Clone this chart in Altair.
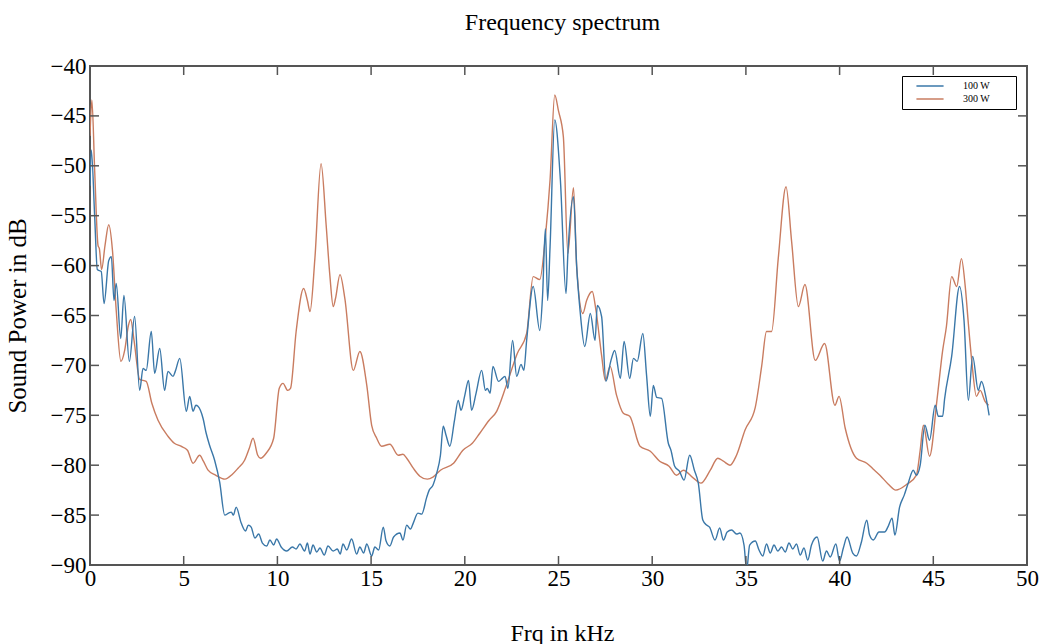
import altair as alt
import pandas as pd

# ---- data ----
freq_300 = [0.0, 0.1, 0.25, 0.43, 0.5, 0.62, 0.8, 1.0, 1.2, 1.4, 1.65, 1.85, 2.05, 2.17, 2.35, 2.65, 3.0, 3.3,
            3.63, 4.16, 4.5, 4.85, 5.2, 5.5, 5.85, 6.05, 6.3, 6.7, 7.2, 7.6, 7.9, 8.25, 8.5, 8.7, 8.95, 9.1, 9.4,
            9.8, 10.1, 10.3, 10.55, 10.7, 11.0, 11.4, 11.6, 11.74, 12.0, 12.33, 12.6, 12.8, 12.98, 13.1, 13.34,
            13.6, 14.05, 14.4, 14.77, 15.03, 15.3, 15.56, 16.0, 16.45, 16.7, 16.9, 17.25, 17.6, 18.0, 18.3, 18.7,
            19.4, 19.9, 20.4, 20.8, 21.3, 21.7, 22.2, 22.8, 23.3, 23.65, 24.0, 24.3, 24.55, 24.8, 25.0, 25.26,
            25.5, 25.8, 25.97, 26.3, 26.5, 26.8, 27.0, 27.3, 27.5, 27.75, 28.1, 28.46, 28.8, 29.35, 29.9, 30.4,
            30.9, 31.3, 31.66, 32.2, 32.6, 33.1, 33.5, 33.8, 34.15, 34.5, 34.95, 35.5, 35.84, 36.1, 36.37, 36.73,
            37.14, 37.44, 37.8, 38.15, 38.7, 39.2, 39.75, 39.97, 40.3, 40.9, 41.45, 41.8, 42.15, 42.6, 43.0, 43.6,
            44.1, 44.3, 44.47, 44.8, 45.2, 45.5, 45.7, 45.98, 46.25, 46.5, 46.7, 46.87, 47.05, 47.3, 47.5, 47.76,
            47.95]
power_300 = [-47.0, -43.4, -50.5, -58.0, -58.3, -60.4, -58.0, -55.9, -58.5, -64.5, -69.6, -68.5, -66.0, -65.4,
             -67.5, -71.4, -71.6, -73.8, -75.5, -77.1, -77.8, -78.1, -78.5, -79.8, -79.0, -79.6, -80.5, -81.0,
             -81.4, -80.9, -80.3, -79.5, -78.3, -77.3, -79.0, -79.3, -78.8, -77.3, -72.3, -71.8, -72.5, -72.3,
             -66.6, -62.3, -63.5, -64.6, -59.3, -49.8, -55.9, -61.0, -64.1, -63.3, -60.9, -63.3, -70.5, -68.6,
             -72.0, -76.0, -77.3, -78.1, -77.9, -79.0, -78.9, -79.3, -80.3, -81.1, -81.4, -81.2, -80.5, -79.8,
             -78.5, -77.8, -76.8, -75.5, -74.6, -72.1, -68.8, -66.8, -61.1, -61.4, -57.1, -51.4, -42.9, -44.5,
             -47.1, -58.8, -52.2, -60.1, -64.8, -63.5, -62.6, -64.5, -69.0, -71.5, -70.1, -73.0, -74.8, -75.1,
             -78.1, -78.6, -79.6, -80.1, -81.0, -80.5, -81.3, -81.8, -80.5, -79.3, -79.6, -80.0, -79.0, -76.5,
             -74.2, -70.1, -66.6, -66.6, -59.2, -52.1, -57.6, -64.1, -61.9, -69.5, -67.8, -74.0, -73.1, -76.3,
             -79.3, -79.8, -80.4, -81.0, -81.9, -82.5, -81.9, -81.0, -78.5, -76.0, -79.1, -73.4, -68.5, -66.1,
             -61.1, -62.1, -59.3, -62.0, -65.8, -69.5, -73.1, -72.5, -73.6, -74.0]

freq_100 = [0.0, 0.07, 0.25, 0.39, 0.6, 0.75, 1.0, 1.14, 1.28, 1.4, 1.64, 1.81, 2.1, 2.38, 2.65, 2.83, 3.0, 3.27,
            3.45, 3.72, 3.98, 4.16, 4.43, 4.55, 4.79, 5.14, 5.32, 5.5, 5.65, 5.76, 6.03, 6.2, 6.38, 6.65, 6.92,
            7.19, 7.4, 7.54, 7.65, 7.8, 8.07, 8.3, 8.45, 8.6, 8.8, 9.0, 9.2, 9.43, 9.6, 9.8, 9.96, 10.2, 10.5,
            10.8, 11.0, 11.2, 11.45, 11.6, 11.74, 11.9, 12.1, 12.27, 12.5, 12.7, 12.98, 13.2, 13.35, 13.5, 13.7,
            13.96, 14.23, 14.4, 14.6, 14.77, 15.03, 15.2, 15.4, 15.65, 15.8, 16.0, 16.2, 16.54, 16.7, 16.9, 17.1,
            17.25, 17.5, 17.7, 17.97, 18.1, 18.3, 18.5, 18.7, 18.85, 19.0, 19.2, 19.45, 19.65, 19.8, 20.0, 20.2,
            20.36, 20.6, 20.9, 21.1, 21.2, 21.35, 21.5, 21.8, 22.0, 22.15, 22.3, 22.55, 22.77, 23.0, 23.15, 23.3,
            23.65, 24.0, 24.15, 24.3, 24.42, 24.55, 24.8, 25.1, 25.4, 25.5, 25.8, 25.97, 26.15, 26.4, 26.7,
            26.95, 27.07, 27.3, 27.53, 27.8, 28.0, 28.3, 28.5, 28.8, 29.0, 29.2, 29.5, 29.7, 29.9, 30.06, 30.24,
            30.5, 30.86, 31.0, 31.2, 31.45, 31.7, 32.0, 32.25, 32.46, 32.7, 32.9, 33.06, 33.35, 33.6, 33.8, 34.0,
            34.24, 34.5, 34.68, 34.9, 35.04, 35.2, 35.5, 35.7, 35.9, 36.1, 36.3, 36.5, 36.7, 36.9, 37.1, 37.3,
            37.5, 37.7, 37.9, 38.1, 38.3, 38.5, 38.8, 39.1, 39.3, 39.5, 39.8, 40.0, 40.2, 40.4, 40.7, 40.9, 41.15,
            41.45, 41.6, 41.8, 42.1, 42.4, 42.6, 42.8, 42.95, 43.2, 43.45, 43.66, 43.93, 44.1, 44.3, 44.55, 44.8,
            45.1, 45.27, 45.5, 45.6, 45.98, 46.4, 46.64, 46.87, 47.1, 47.4, 47.57, 47.8, 47.98]
power_100 = [-52.0, -48.4, -55.1, -60.4, -60.6, -63.8, -59.5, -59.1, -63.5, -61.8, -67.3, -63.0, -69.6, -65.1,
             -72.5, -70.3, -70.5, -66.6, -70.8, -68.3, -72.5, -70.6, -71.1, -70.6, -69.3, -74.6, -73.1, -74.6,
             -74.0, -74.1, -75.3, -76.8, -78.0, -79.5, -81.7, -85.0, -84.8, -84.7, -85.0, -84.2, -85.8, -86.6,
             -86.0, -86.2, -87.3, -86.9, -87.8, -88.1, -87.5, -88.0, -87.4, -88.2, -88.6, -88.2, -88.4, -87.9,
             -88.6, -87.8, -88.9, -88.0, -88.7, -88.3, -89.0, -88.1, -88.6, -88.4, -88.9, -87.9, -88.5, -87.4,
             -88.9, -88.2, -88.8, -87.9, -89.1, -88.2, -88.5, -86.2, -87.6, -88.1, -87.2, -86.8, -87.5, -86.0,
             -86.4, -85.8, -84.8, -84.9, -83.2, -82.5, -82.0, -80.8, -79.0, -76.1, -77.0, -78.1, -75.5, -73.5,
             -74.5, -73.0, -71.5, -74.5, -72.8, -70.5, -72.5, -72.3, -72.8, -70.1, -71.6, -71.3, -71.1, -72.3,
             -67.5, -71.1, -69.9, -70.5, -67.5, -62.1, -66.5, -63.0, -56.3, -63.5, -58.1, -45.4, -51.4, -62.8,
             -58.8, -53.1, -60.1, -64.5, -68.1, -64.8, -67.5, -64.0, -65.1, -71.6, -69.5, -68.5, -71.3, -67.6,
             -71.3, -69.3, -69.6, -66.8, -71.0, -75.1, -72.0, -73.2, -73.3, -77.8, -78.5, -80.1, -80.6, -81.5,
             -79.0, -80.5, -81.8, -85.5, -86.0, -86.2, -87.5, -86.3, -87.5, -86.7, -86.5, -86.9, -86.8, -88.0,
             -90.5, -88.0, -87.6, -88.5, -89.1, -87.9, -88.8, -88.0, -88.6, -88.2, -88.7, -87.8, -88.4, -87.9,
             -89.0, -88.3, -89.5, -88.0, -87.2, -89.6, -88.6, -89.2, -87.9, -89.6, -88.3, -87.2, -88.8, -89.1,
             -87.8, -85.5, -87.0, -87.5, -86.7, -86.7, -86.1, -85.3, -87.0, -84.2, -83.0, -81.8, -80.5, -81.0,
             -80.0, -76.0, -77.5, -74.0, -75.1, -75.1, -73.4, -69.1, -62.1, -65.5, -73.5, -69.1, -72.5, -71.6,
             -73.1, -75.0]

series_names = ["100 W", "300 W"]
series_colors = ["#3a77a8", "#c97c60"]
x_ticks = [0, 5, 10, 15, 20, 25, 30, 35, 40, 45, 50]
y_ticks = [-40, -45, -50, -55, -60, -65, -70, -75, -80, -85, -90]

# ---- layout ----
W, H = 937, 499
SERIF = "Liberation Serif"
FRAME = "#555555"
TICK = 9

df100 = pd.DataFrame({"freq": freq_100, "power": power_100, "series": series_names[0]})
df100["idx"] = range(len(df100))
df300 = pd.DataFrame({"freq": freq_300, "power": power_300, "series": series_names[1]})
df300["idx"] = range(len(df300))

x_scale = alt.Scale(domain=[0, 50], nice=False, zero=False)
y_scale = alt.Scale(domain=[-90, -40], nice=False, zero=False)
x_axis = alt.Axis(values=x_ticks, title="Frq in kHz", ticks=False, domain=False, grid=False,
                  labelFont=SERIF, labelFontSize=23, labelColor="black", labelPadding=2,
                  labelFlush=False, titleFont=SERIF, titleFontSize=24, titleFontWeight="normal",
                  titleColor="black", titleX=472, titleY=68, titleBaseline="middle")
y_axis = alt.Axis(values=y_ticks, title="Sound Power in dB", ticks=False, domain=False, grid=False,
                  labelFont=SERIF, labelFontSize=23, labelColor="black", labelPadding=4,
                  labelFlush=False, titleFont=SERIF, titleFontSize=25, titleFontWeight="normal",
                  titleColor="black", titleX=-73, titleY=H / 2, titleBaseline="middle")
color_scale = alt.Scale(domain=series_names, range=series_colors)
legend = alt.Legend(title="\u00a0", titleOrient="right", titlePadding=21, titleFontSize=10,
                    titleFont=SERIF,
                    orient="none", legendX=812, legendY=10, direction="vertical",
                    strokeColor="black", fillColor="white", padding=5, rowPadding=3,
                    symbolType="M-4,0H4", symbolSize=46, symbolStrokeWidth=1.5, symbolOffset=18,
                    labelFont=SERIF, labelFontSize=10, labelColor="black", labelOffset=28,
                    cornerRadius=0)

def line_layer(d):
    return alt.Chart(d).mark_line(clip=True, strokeWidth=1.4, interpolate="monotone").encode(
        x=alt.X("freq:Q", scale=x_scale, axis=x_axis),
        y=alt.Y("power:Q", scale=y_scale, axis=y_axis),
        color=alt.Color("series:N", scale=color_scale, legend=legend),
        order="idx:Q",
    )

xt = pd.DataFrame({"freq": x_ticks})
yt = pd.DataFrame({"power": y_ticks})
rule = dict(color=FRAME, strokeWidth=1.5)
bottom_ticks = alt.Chart(xt).mark_rule(**rule).encode(
    x=alt.X("freq:Q", scale=x_scale, axis=x_axis), y=alt.value(H), y2=alt.value(H - TICK))
top_ticks = alt.Chart(xt).mark_rule(**rule).encode(
    x=alt.X("freq:Q", scale=x_scale, axis=x_axis), y=alt.value(0), y2=alt.value(TICK))
left_ticks = alt.Chart(yt).mark_rule(**rule).encode(
    y=alt.Y("power:Q", scale=y_scale, axis=y_axis), x=alt.value(0), x2=alt.value(TICK))
right_ticks = alt.Chart(yt).mark_rule(**rule).encode(
    y=alt.Y("power:Q", scale=y_scale, axis=y_axis), x=alt.value(W), x2=alt.value(W - TICK))

chart = alt.layer(
    line_layer(df300), line_layer(df100), bottom_ticks, top_ticks, left_ticks, right_ticks
).properties(
    width=W, height=H,
    title=alt.TitleParams("Frequency spectrum", font=SERIF, fontSize=24, fontWeight="normal",
                          color="black", anchor="middle", baseline="middle", offset=8, dx=4),
    autosize=alt.AutoSizeParams(type="none"),
    padding={"left": 90, "top": 66, "right": 12, "bottom": 79},
    background="white",
).configure_view(stroke=FRAME, strokeWidth=2)

chart.save("out.html", embed_options={"renderer": "svg", "actions": False})
